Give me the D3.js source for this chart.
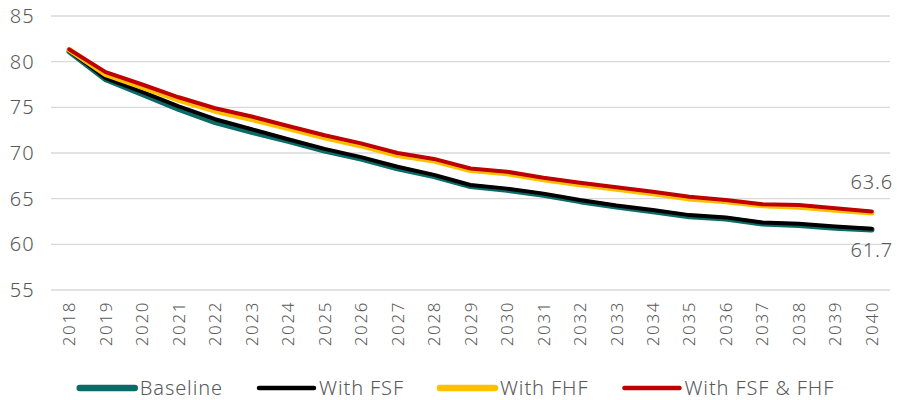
<!DOCTYPE html>
<html>
<head>
<meta charset="utf-8">
<script src="https://cdn.jsdelivr.net/npm/d3@7"></script>
<style>
  body { margin: 0; background: #fff; }
  svg { display: block; }
  text { font-family: "Noto Sans", sans-serif; fill: #595959; font-weight: 300; }
</style>
</head>
<body>
<svg id="chart" width="897" height="400"></svg>
<script>
const years = d3.range(2018, 2041).map(String);
const seriesNames = ["Baseline", "With FSF", "With FHF", "With FSF & FHF"];
const seriesColors = ["#0b6b67", "#000000", "#ffc000", "#c00000"];
const baseline = [81.1, 78.05, 76.45, 74.8, 73.35, 72.3, 71.3, 70.25, 69.35, 68.3, 67.45, 66.35, 65.95, 65.4, 64.7, 64.1, 63.6, 63.05, 62.8, 62.25, 62.1, 61.8, 61.6];
const withFSF = [81.2, 78.2, 76.7, 75.1, 73.7, 72.6, 71.5, 70.45, 69.55, 68.5, 67.6, 66.5, 66.1, 65.55, 64.85, 64.25, 63.75, 63.2, 62.95, 62.4, 62.25, 61.95, 61.7];
const withFHF = [81.3, 78.6, 77.2, 75.8, 74.6, 73.7, 72.7, 71.7, 70.8, 69.75, 69.15, 68.1, 67.75, 67.1, 66.55, 66.05, 65.55, 65.0, 64.7, 64.25, 64.1, 63.75, 63.45];
const withBoth = [81.35, 78.85, 77.5, 76.1, 74.9, 74.0, 72.95, 71.95, 71.05, 70.0, 69.35, 68.3, 67.95, 67.3, 66.75, 66.25, 65.75, 65.2, 64.85, 64.4, 64.3, 63.95, 63.6];
const yTicks = [55, 60, 65, 70, 75, 80, 85];
const endLabels = [{ series: 3, text: "63.6" }, { series: 1, text: "61.7" }];

const allSeries = [baseline, withFSF, withFHF, withBoth];
const widths = [5.5, 4, 5.5, 4];
const legendWidths = [6.5, 4.5, 6.5, 4.5];

const svg = d3.select("#chart");
const mLeft = 51, mRight = 890, mTop = 16, mBottom = 290;

const x = d3.scaleBand().domain(years).range([mLeft, mRight]).padding(0);
const xc = d => x(d) + x.bandwidth() / 2;
const y = d3.scaleLinear().domain([55, 85]).range([mBottom, mTop]);

// gridlines
svg.append("g").selectAll("line").data(yTicks).join("line")
  .attr("x1", mLeft).attr("x2", mRight)
  .attr("y1", d => y(d)).attr("y2", d => y(d))
  .attr("stroke", "#d9d9d9").attr("stroke-width", 1.3);

// y axis
const yAxis = svg.append("g").attr("transform", `translate(${mLeft - 16},0)`)
  .call(d3.axisLeft(y).tickValues(yTicks).tickSize(0).tickPadding(0));
yAxis.select(".domain").remove();
yAxis.selectAll("text").attr("font-size", 20).attr("letter-spacing", 1.2)
  .style("font-family", '"Noto Sans", sans-serif').attr("fill", "#595959");

// x axis
const xAxis = svg.append("g").attr("transform", `translate(0,${mBottom})`)
  .call(d3.axisBottom(x).tickSize(0).tickPadding(0));
xAxis.select(".domain").remove();
xAxis.selectAll("text")
  .attr("font-size", 17).attr("letter-spacing", 1.6)
  .style("font-family", '"Noto Sans", sans-serif').attr("fill", "#595959")
  .attr("text-anchor", "end")
  .attr("transform", "rotate(-90)")
  .attr("x", -11).attr("y", 0).attr("dy", "0.36em");

// lines
const line = d3.line().x((d, i) => xc(years[i])).y(d => y(d));
svg.append("g").selectAll("path").data(allSeries).join("path")
  .attr("d", d => line(d))
  .attr("fill", "none")
  .attr("stroke", (d, i) => seriesColors[i])
  .attr("stroke-width", (d, i) => widths[i])
  .attr("stroke-linejoin", "round").attr("stroke-linecap", "round");

// end labels
const lastYear = years[years.length - 1];
svg.append("g").selectAll("text").data(endLabels).join("text")
  .attr("x", xc(lastYear))
  .attr("y", (d, i) => y(allSeries[d.series][years.length - 1]) + (i === 0 ? -22 : 28))
  .attr("text-anchor", "middle")
  .attr("font-size", 20).attr("letter-spacing", 0.8)
  .text(d => d.text);

// legend
const lg = svg.append("g");
const items = lg.selectAll("g").data(seriesNames).join("g");
items.append("line").attr("x1", 0).attr("x2", 55).attr("y1", 0).attr("y2", 0)
  .attr("stroke", (d, i) => seriesColors[i]).attr("stroke-width", (d, i) => legendWidths[i])
  .attr("stroke-linecap", "round");
items.append("text").attr("x", 60).attr("y", 0).attr("dy", "0.36em")
  .attr("font-size", 20).attr("letter-spacing", 0.9).text(d => d);
let pos = 0;
const starts = [];
items.each(function (d, i) {
  const w = 60 + d3.select(this).select("text").node().getComputedTextLength();
  starts.push(pos);
  pos += w + 36;
});
const total = pos - 36;
const legendStart = 457 - total / 2;
items.attr("transform", (d, i) => `translate(${legendStart + starts[i]},388)`);
</script>
</body>
</html>
